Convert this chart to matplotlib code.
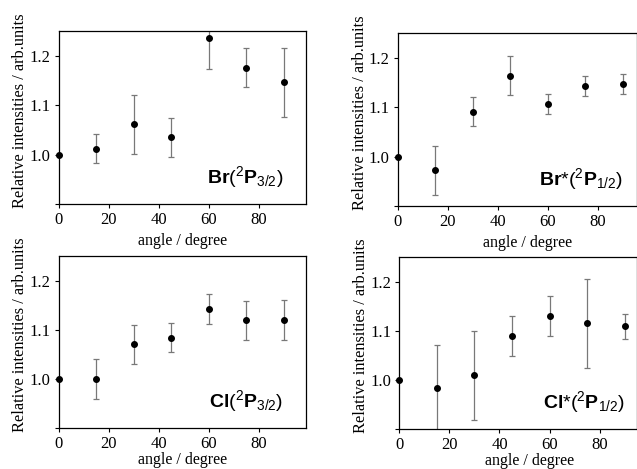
import matplotlib
matplotlib.use("Agg")
import matplotlib.pyplot as plt
import numpy as np

# angles (degree)
angles = [0, 15, 30, 45, 60, 75, 90]

# relative intensities and error half-widths
br_val = [1.000, 1.012, 1.061, 1.035, 1.235, 1.176, 1.146]
br_err = [0.0, 0.030, 0.060, 0.040, 0.062, 0.040, 0.070]

brs_val = [1.000, 0.972, 1.091, 1.164, 1.106, 1.143, 1.147]
brs_err = [0.0, 0.050, 0.030, 0.040, 0.020, 0.020, 0.020]

cl_val = [1.000, 1.000, 1.070, 1.084, 1.142, 1.119, 1.120]
cl_err = [0.0, 0.040, 0.040, 0.030, 0.030, 0.040, 0.040]

cls_val = [1.000, 0.984, 1.009, 1.089, 1.130, 1.115, 1.109]
cls_err = [0.0, 0.087, 0.090, 0.040, 0.040, 0.090, 0.025]

labels = [r'$\mathbf{Br}\mathrm{(}^{\mathrm{2}}\mathbf{P}_{\mathrm{3/2}}\mathrm{)}$',
          r'$\mathbf{Br}\mathrm{*(}^{\mathrm{2}}\mathbf{P}_{\mathrm{1/2}}\mathrm{)}$',
          r'$\mathbf{Cl}\mathrm{(}^{\mathrm{2}}\mathbf{P}_{\mathrm{3/2}}\mathrm{)}$',
          r'$\mathbf{Cl}\mathrm{*(}^{\mathrm{2}}\mathbf{P}_{\mathrm{1/2}}\mathrm{)}$']

yticks = [0.9, 1.0, 1.1, 1.2]
ytick_labels = ['', '1.0', '1.1', '1.2']
xticks = [0, 20, 40, 60, 80]

plt.rcParams['font.family'] = 'Liberation Serif'
plt.rcParams['mathtext.fontset'] = 'custom'
plt.rcParams['mathtext.rm'] = 'Liberation Sans'
plt.rcParams['mathtext.it'] = 'Liberation Sans'
plt.rcParams['mathtext.bf'] = 'Liberation Sans:bold'

W, H = 637, 469
fig = plt.figure(figsize=(W / 100, H / 100), dpi=100)

# (left, top, right, bottom) in pixels, xmax, xlabel x/y position
boxes = [(58.5, 31, 306, 204, 99.0, 0.5, -0.165),
         (397.5, 33, 636.5, 206, 95.5, 0.545, -0.165),
         (58.5, 256, 306, 428, 99.0, 0.5, -0.14),
         (399.5, 257, 636.5, 429, 94.8, 0.55, -0.14)]
series = [(br_val, br_err), (brs_val, brs_err), (cl_val, cl_err), (cls_val, cls_err)]

for (l, t, r, b, xmax, xl, yl), (vals, errs), lab in zip(boxes, series, labels):
    ax = fig.add_axes([l / W, (H - b) / H, (r - l) / W, (b - t) / H])
    ax.errorbar(angles, vals, yerr=errs, fmt='none', ecolor='#787878',
                elinewidth=0.9, capsize=2.5, capthick=0.9)
    ax.plot(angles, vals, 'o', color='black', ms=4, clip_on=False, zorder=5)
    ax.set_xlim(0, xmax)
    ax.set_ylim(0.9, 1.25)
    ax.set_yticks(yticks)
    ax.set_yticklabels(ytick_labels)
    ax.set_xticks(xticks)
    ax.tick_params(direction='out', length=3, width=0.8, labelsize=12, pad=3)
    for s in ax.spines.values():
        s.set_linewidth(0.9)
    ax.set_ylabel('Relative intensities / arb.units', fontsize=11.8)
    ax.yaxis.set_label_coords(-30.0 / (r - l), 0.54)
    ax.set_xlabel('angle / degree', fontsize=11.5)
    ax.xaxis.set_label_coords(xl, yl)
    ax.text(90, 0.955, lab, ha='right', va='center', fontsize=14)

fig.savefig('out.png', dpi=100)
